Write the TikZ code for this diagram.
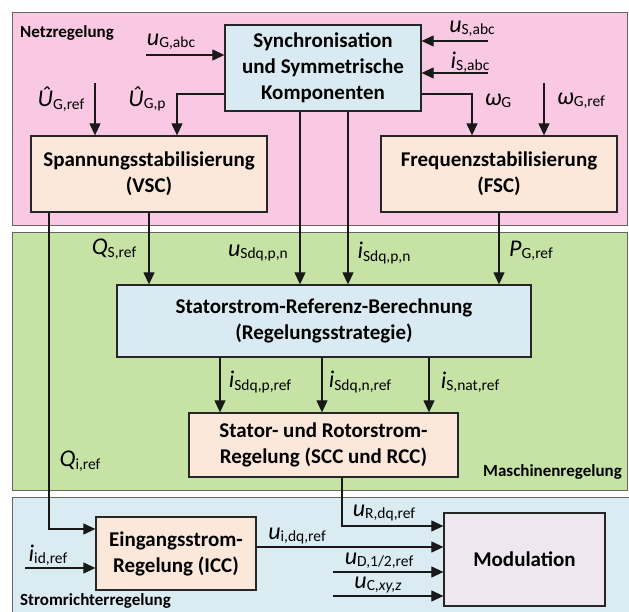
\documentclass[tikz,border=0pt]{standalone}
\usepackage{fontspec}
\setmainfont{Carlito}
\usetikzlibrary{arrows.meta}
\definecolor{pinkbg}{HTML}{F9C8E3}
\definecolor{greenbg}{HTML}{C6E3A5}
\definecolor{bluebg}{HTML}{DAEBF2}
\definecolor{boxblue}{HTML}{DAEAF2}
\definecolor{boxpeach}{HTML}{FBE8DB}
\definecolor{boxlav}{HTML}{EEE7F0}
\newcommand{\sig}[2]{{\fontsize{24}{24}\selectfont\itshape #1}\raisebox{-0.25em}{\fontsize{15.5}{15.5}\selectfont #2}}
\begin{document}
\begin{tikzpicture}[x=1pt,y=-1pt,
  region/.style={draw=black!60, line width=0.8pt},
  blk/.style={draw=black!85, line width=1.3pt, align=center, inner sep=0pt, font=\bfseries\fontsize{21}{26}\selectfont},
  arr/.style={line width=1.2pt, draw=black!90, -{Triangle[length=12pt,width=11pt]}},
  sigl/.style={inner sep=0pt, anchor=center},
  reg/.style={font=\bfseries\fontsize{17}{17}\selectfont, inner sep=0pt}]
\useasboundingbox (0,0) rectangle (629,612);
% regions
\fill[white] (0,0) rectangle (629,612);
\draw[region, fill=pinkbg] (12,12) rectangle (627,225);
\draw[region, fill=greenbg] (12,232) rectangle (627,490);
\fill[bluebg] (12,497) rectangle (629,612);
\draw[region] (12,612) -- (12,497) -- (629,497);
\node[reg, anchor=west] (lnetz) at (20,33) {Netzregelung};
\node[reg, anchor=east] (lmasch) at (622,472) {Maschinenregelung};
\node[reg, anchor=west] (lstrom) at (20,601) {Stromrichterregelung};
% blocks
\node[blk, fill=boxblue, minimum width=196pt, minimum height=86pt] (sync) at (323,68) {Synchronisation\\und Symmetrische\\Komponenten};
\node[blk, fill=boxpeach, minimum width=236pt, minimum height=76pt] (spann) at (149,174) {Spannungsstabilisierung\\(VSC)};
\node[blk, fill=boxpeach, minimum width=236pt, minimum height=76pt] (freq) at (499,174) {Frequenzstabilisierung\\(FSC)};
\node[blk, fill=boxblue, minimum width=414pt, minimum height=72pt] (statref) at (324,321) {Statorstrom-Referenz-Berechnung\\(Regelungsstrategie)};
\node[blk, fill=boxpeach, minimum width=269pt, minimum height=64pt] (sr) at (323.5,445) {Stator- und Rotorstrom-\\Regelung (SCC und RCC)};
\node[blk, fill=boxpeach, minimum width=160pt, minimum height=73pt] (eing) at (176,553.5) {Eingangsstrom-\\Regelung (ICC)};
\node[blk, fill=boxlav, minimum width=161pt, minimum height=93pt] (mod) at (524.5,559.5) {Modulation};
% inputs to sync
\coordinate (uGs) at (146,55);
\draw[arr] (uGs) -- (uGs -| sync.west);
\node[sigl] (luG) at (171,42) {\sig{u}{G,abc}};
\coordinate (uSs) at (488,41);
\draw[arr] (uSs) -- (uSs -| sync.east);
\node[sigl] (luS) at (472,29) {\sig{u}{S,abc}};
\coordinate (iSs) at (488,73);
\draw[arr] (iSs) -- (iSs -| sync.east);
\node[sigl] (liS) at (470,62) {\sig{i}{S,abc}};
% sync -> spann / freq
\coordinate (kUGp) at (177,94);
\draw[arr] (sync.west |- kUGp) -| (kUGp |- spann.north);
\node[sigl] (lUGp) at (147,99) {\sig{Û}{G,p}};
\coordinate (kUGr) at (95,83);
\draw[arr] (kUGr) -- (kUGr |- spann.north);
\node[sigl] (lUGr) at (61,99) {\sig{Û}{G,ref}};
\coordinate (kwG) at (472,94);
\draw[arr] (sync.east |- kwG) -| (kwG |- freq.north);
\node[sigl] (lwG) at (498,101) {\sig{ω}{G}};
\coordinate (kwGr) at (544,83);
\draw[arr] (kwGr) -- (kwGr |- freq.north);
\node[sigl] (lwGr) at (581,101) {\sig{ω}{G,ref}};
% to statref
\coordinate (kQi) at (49,529);
\draw[arr] (kQi |- spann.south) -- (kQi) -- (kQi -| eing.west);
\node[sigl] (lQi) at (80,461) {\sig{Q}{i,ref}};
\coordinate (kQS) at (149,0);
\draw[arr] (kQS |- spann.south) -- (kQS |- statref.north);
\node[sigl] (lQS) at (114,249) {\sig{Q}{S,ref}};
\coordinate (kuS) at (300,0);
\draw[arr] (kuS |- sync.south) -- (kuS |- statref.north);
\node[sigl] (luSdq) at (258,253) {\sig{u}{Sdq,p,n}};
\coordinate (kiS) at (348,0);
\draw[arr] (kiS |- sync.south) -- (kiS |- statref.north);
\node[sigl] (liSdq) at (384,253) {\sig{i}{Sdq,p,n}};
\coordinate (kPG) at (499,0);
\draw[arr] (kPG |- freq.south) -- (kPG |- statref.north);
\node[sigl] (lPG) at (531,251) {\sig{P}{G,ref}};
% statref -> sr
\coordinate (k1) at (220,0);
\draw[arr] (k1 |- statref.south) -- (k1 |- sr.north);
\node[sigl] (l1) at (260,382) {\sig{i}{Sdq,p,ref}};
\coordinate (k2) at (322,0);
\draw[arr] (k2 |- statref.south) -- (k2 |- sr.north);
\node[sigl] (l2) at (360,382) {\sig{i}{Sdq,n,ref}};
\coordinate (k3) at (429,0);
\draw[arr] (k3 |- statref.south) -- (k3 |- sr.north);
\node[sigl] (l3) at (470,382) {\sig{i}{S,nat,ref}};
% to modulation
\coordinate (kuR) at (342,526);
\draw[arr] (kuR |- sr.south) -- (kuR) -- (kuR -| mod.west);
\node[sigl] (luR) at (384,513) {\sig{u}{R,dq,ref}};
\coordinate (kui) at (0,547);
\draw[arr] (eing.east |- kui) -- (mod.west |- kui);
\node[sigl] (lui) at (297,536) {\sig{u}{i,dq,ref}};
\coordinate (kuD) at (333,572);
\draw[arr] (kuD) -- (kuD -| mod.west);
\node[sigl] (luD) at (379,561) {\sig{u}{D,1/2,ref}};
\coordinate (kuC) at (333,596);
\draw[arr] (kuC) -- (kuC -| mod.west);
\node[sigl] (luC) at (378,585) {\sig{u}{C,\textit{xy,z}}};
\coordinate (kiid) at (25,568);
\draw[arr] (kiid) -- (kiid -| eing.west);
\node[sigl] (liid) at (48,555) {\sig{i}{id,ref}};
\end{tikzpicture}
\end{document}
